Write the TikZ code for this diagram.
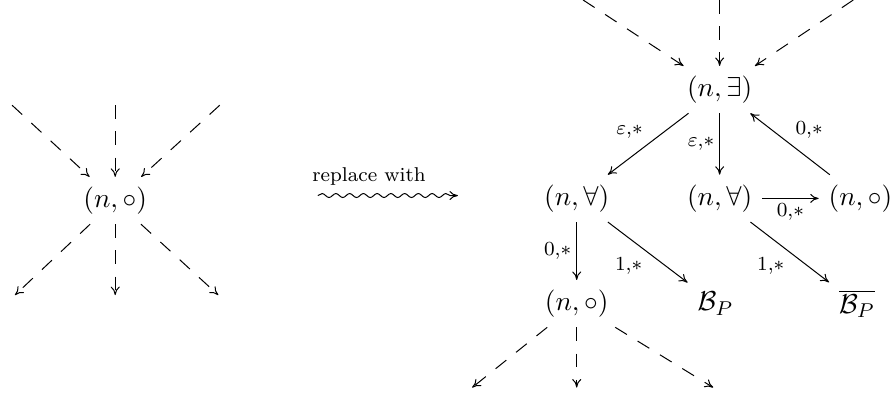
\documentclass[tikz,border=0pt]{standalone}
\usepackage{amsmath,amssymb}
\usetikzlibrary{arrows.meta,decorations.pathmorphing}

\begin{document}
\begin{tikzpicture}[
    >={Computer Modern Rightarrow[length=3.4pt, width=3.6pt]},
    state/.style = {inner sep=2pt, outer sep=2pt, font=\fontsize{11}{13}\selectfont},
    lab/.style = {font=\fontsize{8}{9.6}\selectfont, inner sep=2pt},
    dsh/.style = {->, dash pattern=on 5.5pt off 5pt},
    wave/.style = {->, decorate, decoration={snake, amplitude=.8pt, segment length=5.5pt, post length=3pt}}
]
    \useasboundingbox (0, 0) rectangle (12.53, 5.63);

    % left: the node to be replaced
    {
        \node[state] (l) at (1.62, 2.81) {$(n,\circ)$};

        \coordinate (lin1) at (0.17, 4.15);
        \coordinate (lin2) at (1.62, 4.15);
        \coordinate (lin3) at (3.09, 4.15);
        \coordinate (lout1) at (0.21, 1.48);
        \coordinate (lout2) at (1.62, 1.48);
        \coordinate (lout3) at (3.07, 1.48);
    }

    \draw (lin1) edge[dsh] (l);
    \draw (lin2) edge[dsh] (l);
    \draw (lin3) edge[dsh] (l);
    \draw (l) edge[dsh] (lout1);
    \draw (l) edge[dsh] (lout2);
    \draw (l) edge[dsh] (lout3);

    % the wavy arrow
    \coordinate (w1) at (4.47, 2.88);
    \coordinate (w2) at (6.44, 2.88);
    \draw[wave] (w1) -- (w2);
    \node[font=\footnotesize] (rw) at (5.19, 3.15) {replace with};

    % right: the gadget
    {
        \node[state] (e) at (10.12, 4.37) {$(n,\exists)$};
        \node[state] (a1) at (8.11, 2.84) {$(n,\forall)$};
        \node[state] (a2) at (10.12, 2.84) {$(n,\forall)$};
        \node[state] (c1) at (12.10, 2.84) {$(n,\circ)$};
        \node[state] (c2) at (8.11, 1.36) {$(n,\circ)$};
        \node[state] (b) at (10.06, 1.36) {$\mathcal{B}_P$};
        \node[state] (bb) at (12.05, 1.36) {$\overline{\mathcal{B}_P}$};

        \coordinate (rin1) at (8.20, 5.63);
        \coordinate (rin2) at (10.12, 5.63);
        \coordinate (rin3) at (12.00, 5.63);
        \coordinate (rout1) at (6.64, 0.18);
        \coordinate (rout2) at (8.11, 0.18);
        \coordinate (rout3) at (10.03, 0.18);
    }

    \draw (rin1) edge[dsh] (e);
    \draw (rin2) edge[dsh] (e);
    \draw (rin3) edge[dsh] (e);
    \draw (e) edge[->] node[lab, above left] {$\varepsilon{,}*$} (a1);
    \draw (e) edge[->] node[lab, left] {$\varepsilon{,}*$} (a2);
    \draw (c1) edge[->] node[lab, above right] {$0{,}*$} (e);
    \draw (a2) edge[->] node[lab, below] {$0{,}*$} (c1);
    \draw (a1) edge[->] node[lab, left] {$0{,}*$} (c2);
    \draw (a1) edge[->] node[lab, below left] {$1{,}*$} (b);
    \draw (a2) edge[->] node[lab, below left] {$1{,}*$} (bb);
    \draw (c2) edge[dsh] (rout1);
    \draw (c2) edge[dsh] (rout2);
    \draw (c2) edge[dsh] (rout3);

\end{tikzpicture}
\end{document}
